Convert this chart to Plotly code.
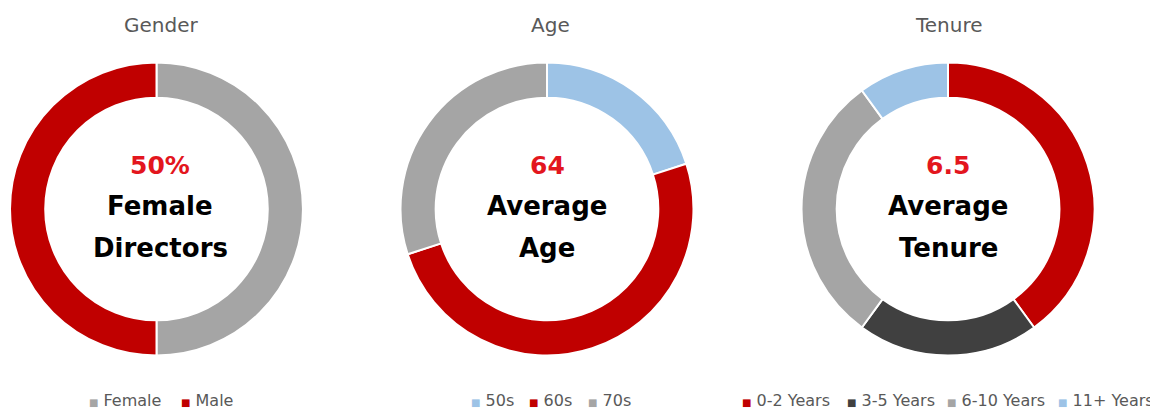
import plotly.graph_objects as go

# The page body has an 8px margin, so the figure is sized to fill the
# remaining part of the 1158x410 window and page-pixel positions are shifted.
PAGE_W, PAGE_H = 1158, 410
OFF = 8
W, H = PAGE_W - OFF, PAGE_H - OFF

# ---- data ----
gender_labels = ["Female", "Male"]
gender_values = [5, 5]
gender_colors = ["#a5a5a5", "#c00000"]

age_labels = ["50s", "60s", "70s"]
age_values = [2, 5, 3]
age_colors = ["#9dc3e6", "#c00000", "#a5a5a5"]

tenure_labels = ["0-2 Years", "3-5 Years", "6-10 Years", "11+ Years"]
tenure_values = [4, 2, 3, 1]
tenure_colors = ["#c00000", "#404040", "#a5a5a5", "#9dc3e6"]

titles = ["Gender", "Age", "Tenure"]
center_big = ["50%", "64", "6.5"]
center_line1 = ["Female", "Average", "Average"]
center_line2 = ["Directors", "Age", "Tenure"]

# ---- layout helpers (page pixel positions) ----
FONT = "DejaVu Sans"
centers_x = [156.5, 547, 948]
text_x = [160, 547, 948]
title_x = [161, 550, 949]
cy = 209
R = 146.5
legend_item_x = [[87, 179], [469, 527, 586], [740, 845, 945, 1056]]
LEGEND_Y = 400


def px(p):
    return (p - OFF) / W


def py(p):
    return 1 - (p - OFF) / H


fig = go.Figure()
datasets = [(gender_labels, gender_values, gender_colors),
            (age_labels, age_values, age_colors),
            (tenure_labels, tenure_values, tenure_colors)]

annotations = []
for i, (labs, vals, cols) in enumerate(datasets):
    cx = centers_x[i]
    fig.add_trace(go.Pie(
        labels=labs, values=vals, sort=False, direction="clockwise", rotation=0,
        hole=0.76, textinfo="none", hoverinfo="label+value",
        marker=dict(colors=cols, line=dict(color="white", width=2)),
        domain=dict(x=[px(cx - R), px(cx + R)], y=[py(cy + R), py(cy - R)]),
        showlegend=False,
    ))
    # legend entries built from the same labels / colours
    for lab, col, lx in zip(labs, cols, legend_item_x[i]):
        annotations.append(dict(
            x=px(lx), y=py(LEGEND_Y), xref="paper", yref="paper",
            xanchor="left", yanchor="middle", showarrow=False,
            text="<span style='color:%s;font-size:10px'>■</span> %s" % (col, lab),
            font=dict(family=FONT, size=16, color="#595959")))

for i in range(3):
    tx = px(text_x[i])
    annotations.append(dict(x=px(title_x[i]), y=py(25), text=titles[i], showarrow=False,
                            xref="paper", yref="paper", xanchor="center", yanchor="middle",
                            font=dict(family=FONT, size=20, color="#595959")))
    annotations.append(dict(x=tx, y=py(165), text="<b>%s</b>" % center_big[i], showarrow=False,
                            xref="paper", yref="paper", xanchor="center", yanchor="middle",
                            font=dict(family=FONT, size=25, color="#e3161e")))
    annotations.append(dict(x=tx, y=py(206), text="<b>%s</b>" % center_line1[i], showarrow=False,
                            xref="paper", yref="paper", xanchor="center", yanchor="middle",
                            font=dict(family=FONT, size=26, color="#000000")))
    annotations.append(dict(x=tx, y=py(248), text="<b>%s</b>" % center_line2[i], showarrow=False,
                            xref="paper", yref="paper", xanchor="center", yanchor="middle",
                            font=dict(family=FONT, size=26, color="#000000")))

fig.update_layout(
    width=W, height=H,
    margin=dict(l=0, r=0, t=0, b=0, autoexpand=False),
    paper_bgcolor="white", plot_bgcolor="white",
    annotations=annotations,
    showlegend=False,
)

fig.write_html("out.html")
